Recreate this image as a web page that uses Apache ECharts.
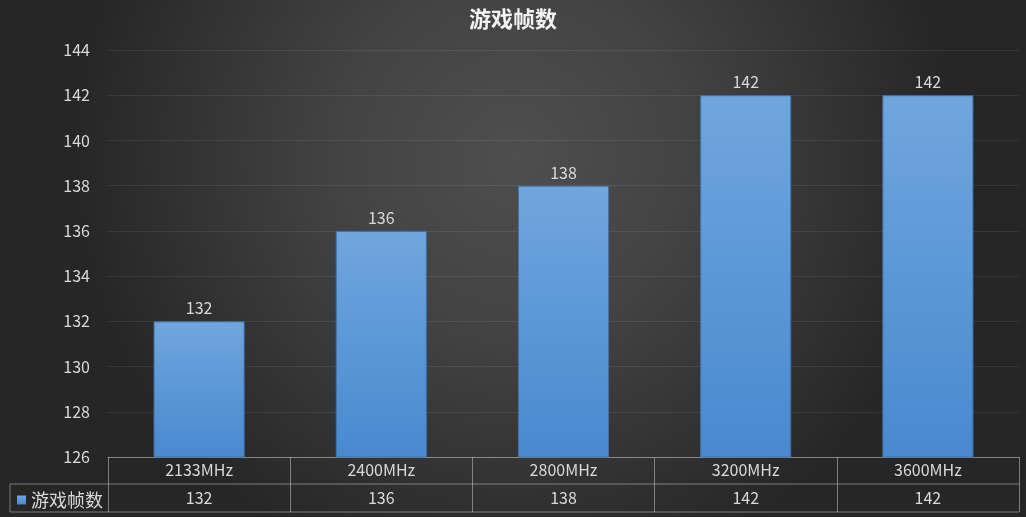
<!DOCTYPE html>
<html>
<head>
<meta charset="utf-8">
<script src="https://cdn.jsdelivr.net/npm/echarts@6/dist/echarts.min.js"></script>
<style>
  html, body { margin: 0; padding: 0; }
  #app { width: 1026px; height: 517px; }
</style>
</head>
<body>
<div id="app"></div>
<script>
  const seriesName = '游戏帧数';
  const categories = ['2133MHz', '2400MHz', '2800MHz', '3200MHz', '3600MHz'];
  const fps = [132, 136, 138, 142, 142];
  const yMin = 126, yMax = 144, yStep = 2;

  const font = '"Noto Sans CJK SC", "Noto Sans", sans-serif';
  const lineColor = 'rgba(210,210,210,0.5)';

  var myChart = echarts.init(document.getElementById('app'));

  let option = {
    backgroundColor: {
      type: 'radial', x: 0.5, y: 0.3, r: 0.85,
      colorStops: [
        { offset: 0, color: '#4e4e4e' },
        { offset: 0.4, color: '#434343' },
        { offset: 1, color: '#262626' }
      ]
    },
    textStyle: { fontFamily: font },
    title: {
      text: seriesName,
      left: 'center',
      top: 3,
      textStyle: { color: '#f2f2f2', fontSize: 22, fontWeight: 'bold', fontFamily: font }
    },
    legend: {
      left: 12,
      top: 486,
      itemWidth: 9,
      itemHeight: 9,
      itemGap: 4,
      icon: 'rect',
      itemStyle: { borderWidth: 0 },
      textStyle: { color: '#d9d9d9', fontSize: 18, fontFamily: font },
      data: [seriesName]
    },
    grid: { left: 108, right: 7, top: 50, bottom: 60 },
    xAxis: [
      {
        type: 'category',
        data: categories,
        axisLine: { show: true, lineStyle: { color: lineColor } },
        axisTick: { show: true, interval: 0, length: 55, lineStyle: { color: lineColor } },
        axisLabel: { color: '#d9d9d9', fontSize: 16, margin: 5, fontFamily: font }
      },
      {
        type: 'category',
        position: 'bottom',
        offset: 27,
        data: fps.map(String),
        axisLine: { show: false },
        axisTick: { show: false },
        axisLabel: { color: '#d9d9d9', fontSize: 16, margin: 6, fontFamily: font }
      }
    ],
    yAxis: {
      type: 'value',
      min: yMin,
      max: yMax,
      interval: yStep,
      axisLine: { show: false },
      axisTick: { show: false },
      axisLabel: { color: '#d9d9d9', fontSize: 16, margin: 18, fontFamily: font },
      splitLine: { lineStyle: { color: 'rgba(255,255,255,0.08)' } }
    },
    series: [
      {
        name: seriesName,
        type: 'bar',
        barWidth: '50%',
        data: fps,
        itemStyle: {
          color: {
            type: 'linear', x: 0, y: 0, x2: 0, y2: 1,
            colorStops: [
              { offset: 0, color: '#6fa6de' },
              { offset: 1, color: '#4889cf' }
            ]
          },
          borderColor: '#3f72a8',
          borderWidth: 1
        },
        label: {
          show: true,
          position: 'top',
          distance: 5,
          color: '#d9d9d9',
          fontSize: 16,
          fontFamily: font
        }
      }
    ],
    graphic: [
      { type: 'line', shape: { x1: 10, y1: 484, x2: 1019, y2: 484 }, style: { stroke: lineColor, lineWidth: 1 } },
      { type: 'line', shape: { x1: 10, y1: 512, x2: 1019, y2: 512 }, style: { stroke: lineColor, lineWidth: 1 } },
      { type: 'line', shape: { x1: 10, y1: 484, x2: 10, y2: 512 }, style: { stroke: lineColor, lineWidth: 1 } }
    ]
  };

  myChart.setOption(option);
</script>
</body>
</html>
